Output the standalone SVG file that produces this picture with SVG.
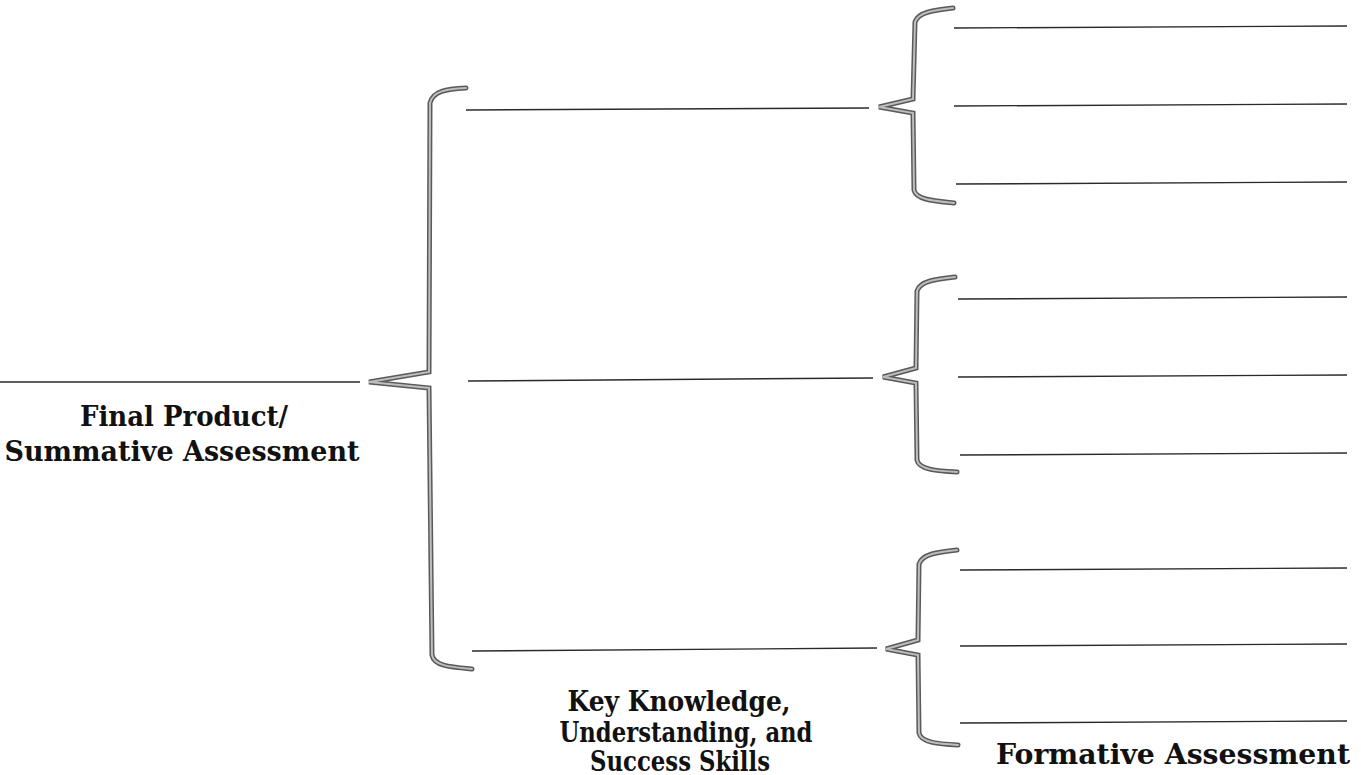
<svg xmlns="http://www.w3.org/2000/svg" xmlns:xlink="http://www.w3.org/1999/xlink" width="1361" height="775" viewBox="0 0 1361 775">
<style>
.bg{fill:#ffffff}
.ln{stroke:#2a2a2a;stroke-width:1.4;fill:none}
.bo{stroke:#5a5a5a;stroke-width:5;fill:none;stroke-linejoin:miter;stroke-linecap:round}
.bi{stroke:#bdbdbd;stroke-width:2;fill:none;stroke-linejoin:miter;stroke-linecap:round}
.lbl{font-family:"DejaVu Serif","Liberation Serif",serif;font-weight:bold;font-size:27.5px;fill:#111111;text-anchor:middle}
</style>
<defs>
<path id="bigBrace" d="M466,88 C446,89 433,91 430,103 L429,372 L369,382 L429,388 L432,655 C434,666 450,667 472,669"/>
<path id="brace1" d="M953,8 C935,10 918,12 915,22 L913,99 L879,107 L913,113 L914,190 C916,200 935,201 954,203"/>
<path id="brace2" d="M955,277 C936,279 920,281 917,291 L916,368 L883,377 L916,383 L917,460 C919,470 938,471 957,472"/>
<path id="brace3" d="M957,550 C938,552 922,554 919,564 L918,640 L886,649 L918,655 L919,733 C921,743 940,744 958,745"/>
</defs>
<rect class="bg" x="0" y="0" width="1361" height="775"/>

<g id="connectors">
<line class="ln" x1="0" y1="382" x2="360" y2="382"/>
<line class="ln" x1="466" y1="110" x2="869" y2="108"/>
<line class="ln" x1="468" y1="381" x2="873" y2="378"/>
<line class="ln" x1="472" y1="651" x2="877" y2="648"/>
</g>

<g id="summative">
<use href="#bigBrace" class="bo"/>
<use href="#bigBrace" class="bi"/>
<text class="lbl" x="184" y="426" textLength="208" lengthAdjust="spacingAndGlyphs">Final Product/</text>
<text class="lbl" x="182" y="461" textLength="355" lengthAdjust="spacingAndGlyphs">Summative Assessment</text>
</g>

<g id="key-knowledge">
<text class="lbl" x="679" y="711" textLength="223" lengthAdjust="spacingAndGlyphs">Key Knowledge,</text>
<text class="lbl" x="686" y="742" textLength="253" lengthAdjust="spacingAndGlyphs">Understanding, and</text>
<text class="lbl" x="680" y="771" textLength="180" lengthAdjust="spacingAndGlyphs">Success Skills</text>
</g>

<g id="formative-1">
<use href="#brace1" class="bo"/>
<use href="#brace1" class="bi"/>
<line class="ln" x1="954" y1="28" x2="1347" y2="26"/>
<line class="ln" x1="954" y1="106" x2="1347" y2="104"/>
<line class="ln" x1="956" y1="184" x2="1347" y2="182"/>
</g>

<g id="formative-2">
<use href="#brace2" class="bo"/>
<use href="#brace2" class="bi"/>
<line class="ln" x1="958" y1="299" x2="1347" y2="297"/>
<line class="ln" x1="958" y1="377" x2="1347" y2="375"/>
<line class="ln" x1="960" y1="455" x2="1347" y2="453"/>
</g>

<g id="formative-3">
<use href="#brace3" class="bo"/>
<use href="#brace3" class="bi"/>
<line class="ln" x1="960" y1="570" x2="1347" y2="568"/>
<line class="ln" x1="960" y1="646" x2="1347" y2="644"/>
<line class="ln" x1="960" y1="723" x2="1347" y2="721"/>
<text class="lbl" x="1173" y="764" textLength="354" lengthAdjust="spacingAndGlyphs">Formative Assessment</text>
</g>
</svg>
